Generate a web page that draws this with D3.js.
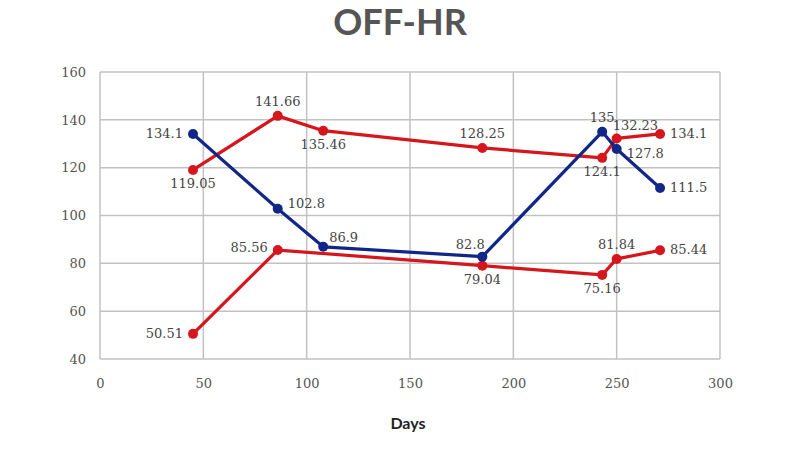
<!DOCTYPE html>
<html><head><meta charset="utf-8">
<script src="https://cdn.jsdelivr.net/npm/d3@7"></script>
<style>body{margin:0;background:#fff}</style>
</head><body>
<svg id="c" width="800" height="450"></svg>
<script>
const title = "OFF-HR";
const xLabel = "Days";
const xTicks = [0, 50, 100, 150, 200, 250, 300];
const yTicks = [40, 60, 80, 100, 120, 140, 160];

const blueDays = [45, 86, 108, 185, 243, 250, 271];
const blueVals = [134.1, 102.8, 86.9, 82.8, 135, 127.8, 111.5];
const blueLabelPos = ["left", "rightUp", "rightAbove", "aboveLeft", "above", "rightDown", "right"];

const redUpDays = [45, 86, 108, 185, 243, 250, 271];
const redUpVals = [119.05, 141.66, 135.46, 128.25, 124.1, 132.23, 134.1];
const redUpLabelPos = ["below", "above", "below", "above", "below", "aboveRight", "right"];

const redLoDays = [45, 86, 185, 243, 250, 271];
const redLoVals = [50.51, 85.56, 79.04, 75.16, 81.84, 85.44];
const redLoLabelPos = ["left", "leftUp", "below", "below", "above", "right"];

const series = [
  {days: redUpDays, vals: redUpVals, pos: redUpLabelPos, color: "#d6161d"},
  {days: redLoDays, vals: redLoVals, pos: redLoLabelPos, color: "#d6161d"},
  {days: blueDays, vals: blueVals, pos: blueLabelPos, color: "#112788"}
];

const svg = d3.select("#c");
const x = d3.scaleLinear().domain([0, 300]).range([100, 720]);
const y = d3.scaleLinear().domain([40, 160]).range([359, 72]);

svg.append("text").attr("x", 400).attr("y", 35).attr("text-anchor", "middle")
  .attr("font-family", "Lato").attr("font-weight", 700).attr("font-size", 36)
  .attr("fill", "#555").text(title);

const grid = svg.append("g").attr("stroke", "#c2c2c2").attr("stroke-width", 1.5);
grid.selectAll(".v").data(xTicks).join("line")
  .attr("x1", d => x(d)).attr("x2", d => x(d)).attr("y1", y(40)).attr("y2", y(160));
grid.selectAll(".h").data(yTicks).join("line")
  .attr("x1", x(0)).attr("x2", x(300)).attr("y1", d => y(d)).attr("y2", d => y(d));

const xAxis = svg.append("g").attr("transform", `translate(0,${y(40)})`)
  .call(d3.axisBottom(x).tickValues(xTicks).tickSize(0).tickPadding(20));
const yAxis = svg.append("g").attr("transform", `translate(${x(0)},0)`)
  .call(d3.axisLeft(y).tickValues(yTicks).tickSize(0).tickPadding(14));
[xAxis, yAxis].forEach(a => {
  a.select(".domain").remove();
  a.selectAll("text").attr("font-family", "DejaVu Serif").attr("font-size", 13).attr("fill", "#555");
});

svg.append("text").attr("x", 408).attr("y", 429).attr("text-anchor", "middle")
  .attr("font-family", "Lato").attr("font-weight", 700).attr("font-size", 16)
  .attr("fill", "#222").text(xLabel);

const line = d3.line().x(d => x(d[0])).y(d => y(d[1]));
const off = {
  left: [-10, 4, "end"], right: [10, 4, "start"], above: [0, -10, "middle"],
  below: [0, 18, "middle"], aboveLeft: [-12, -8, "middle"], aboveRight: [-4, -8, "start"],
  leftUp: [-10, 2, "end"], rightUp: [10, -1, "start"], rightAbove: [6, -5, "start"],
  rightDown: [10, 9, "start"]
};
series.forEach(s => {
  const pts = s.days.map((d, i) => [d, s.vals[i]]);
  svg.append("path").datum(pts).attr("d", line).attr("fill", "none")
    .attr("stroke", s.color).attr("stroke-width", 3.2).attr("stroke-linejoin", "round");
  svg.append("g").selectAll("circle").data(pts).join("circle")
    .attr("cx", d => x(d[0])).attr("cy", d => y(d[1])).attr("r", 5).attr("fill", s.color);
});
series.forEach(s => {
  svg.append("g").selectAll("text").data(s.days.map((d, i) => [d, s.vals[i], s.pos[i]])).join("text")
    .attr("x", d => x(d[0]) + off[d[2]][0]).attr("y", d => y(d[1]) + off[d[2]][1])
    .attr("text-anchor", d => off[d[2]][2])
    .attr("font-family", "DejaVu Serif").attr("font-size", 13).attr("fill", "#444")
    .text(d => d[1]);
});
</script>
</body></html>
